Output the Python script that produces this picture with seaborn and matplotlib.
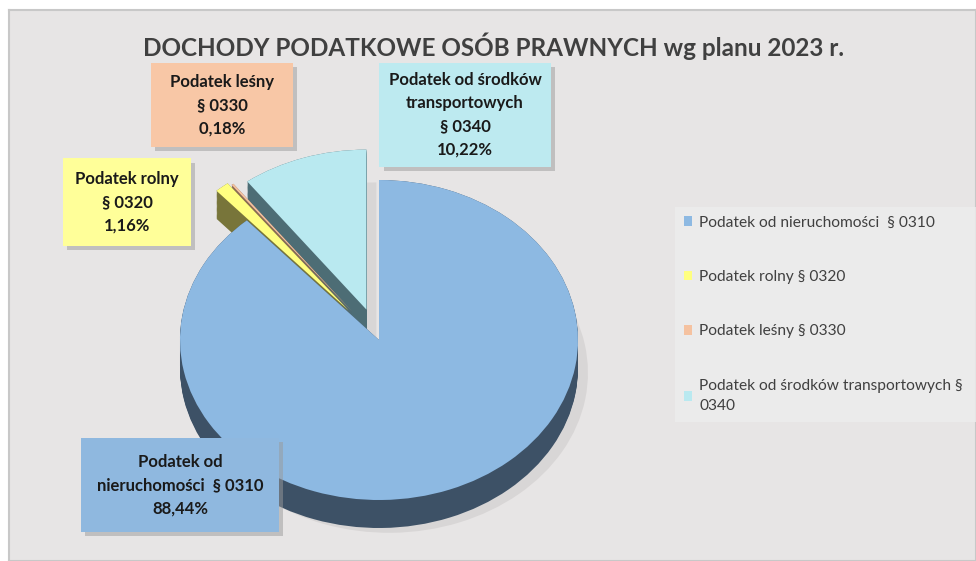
import matplotlib
matplotlib.use("Agg")
import matplotlib.pyplot as plt
import matplotlib.patheffects as pe
import seaborn as sns

# data
labels = ["Podatek od nieruchomości  § 0310", "Podatek rolny § 0320",
          "Podatek leśny § 0330", "Podatek od środków transportowych §\n0340"]
box_labels = ["Podatek od\nnieruchomości  § 0310\n88,44%", "Podatek rolny\n§ 0320\n1,16%",
              "Podatek leśny\n§ 0330\n0,18%", "Podatek od środków\ntransportowych\n§ 0340\n10,22%"]
values = [88.44, 1.16, 0.18, 10.22]
explode = [0, 0.24, 0.22, 0.2]

top_colors = ["#8db9e2", "#ffff80", "#f5c2a0", "#b9e9f0"]
side_colors = ["#3d5166", "#78753a", "#8a6a55", "#4d6d75"]
box_colors = ["#8fb8df", "#ffff99", "#f8c7a6", "#bdeaf0"]

sns.set_theme(style="white")
plt.rcParams["font.family"] = ["Lato", "DejaVu Sans"]

W, H = 976, 561
fig = plt.figure(figsize=(W / 100, H / 100), dpi=100)
fig.patch.set_facecolor("white")


def fx(px):
    return px / W


def fy(py):
    return 1 - py / H


# chart area background
bg = fig.add_axes([fx(9), 0, fx(W - 9), fy(10)])
bg.set_facecolor("#e7e5e5")
bg.set_xticks([])
bg.set_yticks([])
for s in bg.spines.values():
    s.set_color("#c8c8c8")
    s.set_linewidth(1.5)

# pie axes: ellipse centre (379, 340), rx 199, ry 160
cx, cy, rx, ry = 379, 340, 199, 160
x0, x1, y0, y1 = -1.3, 1.3, -1.35, 1.3
ax = fig.add_axes([fx(cx + x0 * rx), fy(cy - y0 * ry), (x1 - x0) * rx / W, (y1 - y0) * ry / H])
ax.patch.set_alpha(0)

depth = 0.175
n = 24
# soft shadow
ax.pie(values, explode=explode, startangle=90, counterclock=False,
       colors=["#cfcccc"] * 4, center=(0.05, -depth - 0.03),
       wedgeprops=dict(linewidth=0, alpha=0.6))
for k in range(n + 1):
    off = depth * (1 - k / n)
    ax.pie(values, explode=explode, startangle=90, counterclock=False,
           colors=side_colors, center=(0, -off), wedgeprops=dict(linewidth=0))
wedges, _ = ax.pie(values, explode=explode, startangle=90, counterclock=False,
                   colors=top_colors, wedgeprops=dict(linewidth=0))
ax.set_aspect("auto")
ax.set_xlim(x0, x1)
ax.set_ylim(y0, y1)
ax.axis("off")

# title
fig.text(fx(493), fy(46), "DOCHODY PODATKOWE OSÓB PRAWNYCH wg planu 2023 r.",
         ha="center", va="center", fontsize=17.5, fontweight="bold", color="#404040")

# label boxes
box_pos = [(180, 485), (127, 202), (222, 105), (465, 115)]
box_text = [box_labels[0], box_labels[1], "  " + box_labels[2].replace("\n", "  \n  ") + "  ", box_labels[3]]
box_pad = [0.95, 0.75, 0.65, 0.55]
for txt, (px, py), col, pad in zip(box_text, box_pos, box_colors, box_pad):
    t = fig.text(fx(px), fy(py), txt, ha="center", va="center", fontsize=12,
                 fontweight="bold", color="#1a1a1a", linespacing=1.55,
                 bbox=dict(boxstyle=f"square,pad={pad}", facecolor=col, edgecolor="none"))
    t.get_bbox_patch().set_path_effects(
        [pe.withSimplePatchShadow(offset=(3, -3), shadow_rgbFace="#9a9a9a", alpha=0.5), pe.Normal()])

# legend
leg = fig.legend(wedges, labels, loc="upper left",
                 bbox_to_anchor=(fx(675), fy(207) - 0.001, fx(W - 675), 0.001), mode="expand",
                 frameon=True, facecolor="#ededed", edgecolor="none", fancybox=False,
                 fontsize=11.2, labelcolor="#404040", handlelength=0.55, handleheight=0.55,
                 handletextpad=0.45, labelspacing=2.6, borderpad=0.55, borderaxespad=0)
leg.get_texts()[3].set_linespacing(1.6)

fig.savefig("out.png", dpi=100, facecolor=fig.get_facecolor())
